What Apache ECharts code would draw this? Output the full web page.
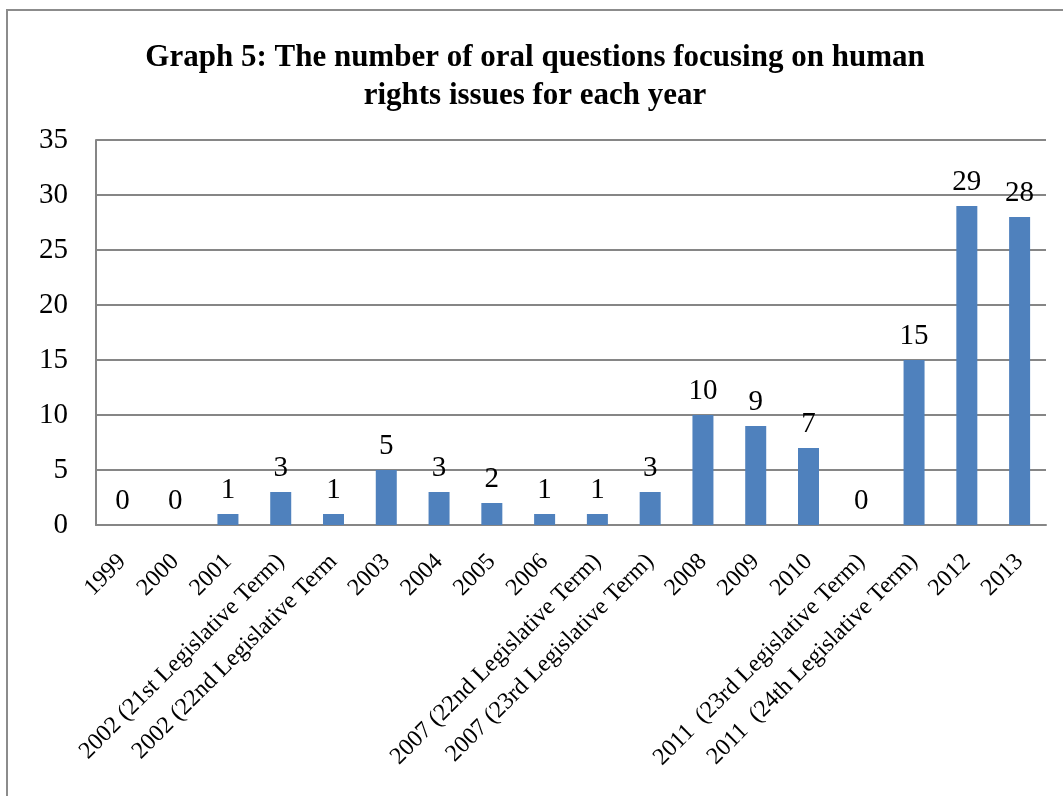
<!DOCTYPE html>
<html>
<head>
<meta charset="utf-8">
<script src="https://cdn.jsdelivr.net/npm/echarts@6/dist/echarts.min.js"></script>
<style>
  html, body { margin: 0; padding: 0; background: #fff; }
  #chart { width: 1063px; height: 796px; }
</style>
</head>
<body>
<div id="chart"></div>
<script>
// Oral questions on human rights issues, by year / legislative term
const categories = [
  '1999', '2000', '2001',
  '2002 (21st Legislative Term)', '2002 (22nd Legislative Term',
  '2003', '2004', '2005', '2006',
  '2007 (22nd Legislative Term)', '2007 (23rd Legislative Term)',
  '2008', '2009', '2010',
  '2011  (23rd Legislative Term)', '2011  (24th Legislative Term)',
  '2012', '2013'
];
const questionCounts = [0, 0, 1, 3, 1, 5, 3, 2, 1, 1, 3, 10, 9, 7, 0, 15, 29, 28];
const yTicks = [0, 5, 10, 15, 20, 25, 30, 35];

const serif = '"Liberation Serif", "Times New Roman", serif';
const chart = echarts.init(document.getElementById('chart'));

chart.setOption({
  backgroundColor: '#fff',
  animation: false,
  graphic: [{
    type: 'rect',
    shape: { x: 7, y: 10, width: 1200, height: 900 },
    style: { fill: 'none', stroke: '#8c8c8c', lineWidth: 2 },
    silent: true
  }],
  title: {
    text: 'Graph 5: The number of oral questions focusing on human\nrights issues for each year',
    left: 530,
    textAlign: 'center',
    top: 34,
    textStyle: {
      fontFamily: serif,
      fontWeight: 'bold',
      fontSize: 31,
      lineHeight: 38,
      color: '#000'
    }
  },
  grid: { left: 96, right: 17, top: 140, bottom: 271, containLabel: false },
  xAxis: {
    type: 'category',
    data: categories,
    axisLine: { show: true, lineStyle: { color: '#868686', width: 2 } },
    axisTick: { show: false },
    axisLabel: {
      interval: 0,
      rotate: 45,
      margin: 33,
      fontFamily: serif,
      fontSize: 24,
      color: '#000'
    }
  },
  yAxis: {
    type: 'value',
    min: yTicks[0],
    max: yTicks[yTicks.length - 1],
    interval: 5,
    axisLine: { show: true, lineStyle: { color: '#868686', width: 2 } },
    axisTick: { show: false },
    splitLine: { show: true, lineStyle: { color: '#868686', width: 2 } },
    axisLabel: {
      margin: 28,
      fontFamily: serif,
      fontSize: 29,
      color: '#000'
    }
  },
  series: [{
    type: 'bar',
    data: questionCounts,
    barWidth: 21,
    itemStyle: { color: '#4f81bd' },
    label: {
      show: true,
      position: 'top',
      distance: 9,
      fontFamily: serif,
      fontSize: 29,
      color: '#000'
    }
  }]
});
</script>
</body>
</html>
